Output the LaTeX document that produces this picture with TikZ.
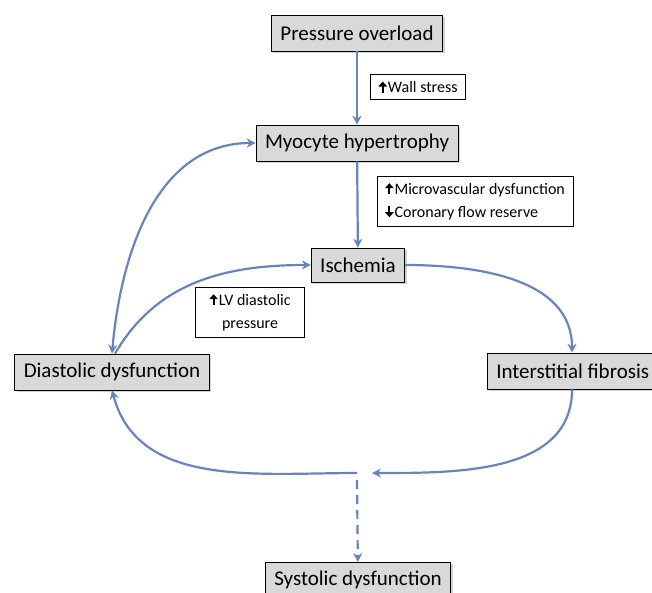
\documentclass[tikz,border=0pt]{standalone}
\usepackage{fontspec}
\setmainfont{Carlito}
\usepackage{tikz}
\usetikzlibrary{positioning, arrows.meta, shadows}
\definecolor{linkblue}{RGB}{104,132,192}
\newcommand{\up}{\tikz[baseline=0pt]\draw[-{Triangle[length=5pt, width=8.5pt]}, line width=1.9pt] (0pt,0pt) -- (0pt,11pt);\kern1pt}
\newcommand{\down}{\tikz[baseline=0pt]\draw[-{Triangle[length=5pt, width=8.5pt]}, line width=1.9pt] (0pt,11pt) -- (0pt,0pt);\kern1pt}

\begin{document}
\begin{tikzpicture}[
      x=1pt, y=-1pt,
      >={Stealth[length=9pt, width=9pt]},
      stage/.style={
        rectangle, draw, semithick, fill=gray!30, text centered,
        minimum height=36pt, inner xsep=9pt,
        font=\fontsize{21}{22}\selectfont,
        drop shadow={shadow xshift=2pt, shadow yshift=-2pt, fill=gray!70},
      },
      note/.style={
        rectangle, draw, fill=white, thin,
        font=\fontsize{16}{23}\selectfont, inner xsep=8pt, inner ysep=6pt,
      },
      link/.style={->, draw=linkblue, line width=2.2pt},
    ]
      \useasboundingbox (0,0) rectangle (652,592);

      % main stages
      \node[stage] (press) at (357,33) {Pressure overload};
      \node[stage] (myo) at (357,143) {Myocyte hypertrophy};
      \node[stage, minimum height=34pt] (isch) at (358,265) {Ischemia};
      \node[stage] (dia) at (112,372) {Diastolic dysfunction};
      \node[stage, anchor=west] (fib) at (487,371) {Interstitial fibrosis\hspace*{12pt}};
      \node[stage, anchor=north] (sys) at (358,562) {Systolic dysfunction};

      % side notes
      \node[note] (wall) at (418,87) {\up Wall stress};
      \node[note, align=left] (micro) at (475,201)
        {\up Microvascular dysfunction\\ \down Coronary flow reserve};
      \node[note, align=center, minimum width=109pt] (lvp) at (250,312)
        {\up LV diastolic\\pressure};

      % junction below the loop
      \coordinate (tipR) at (372,473);
      \coordinate (tipL) at (357,473);

      % Draw arrows
      \draw[link] (press) -- (myo);
      \draw[link] (myo) -- (isch);
      \draw[link] (isch.east) to[out=0, in=90] (fib.north -| 572,0);
      \draw[link] (fib.south -| 572,0) to[out=-90, in=0] (tipR);
      \draw[link] (tipL) to[out=180, in=-75] (dia.south);
      \draw[link, <->] (dia.north) to[out=85, in=180] (myo.west);
      \draw[link] ([xshift=3pt]dia.north) to[out=60, in=180] (isch.west);
      \draw[link, dashed, dash pattern=on 9pt off 6pt] ([yshift=-7pt]tipL) -- (sys);
    \end{tikzpicture}
\end{document}
